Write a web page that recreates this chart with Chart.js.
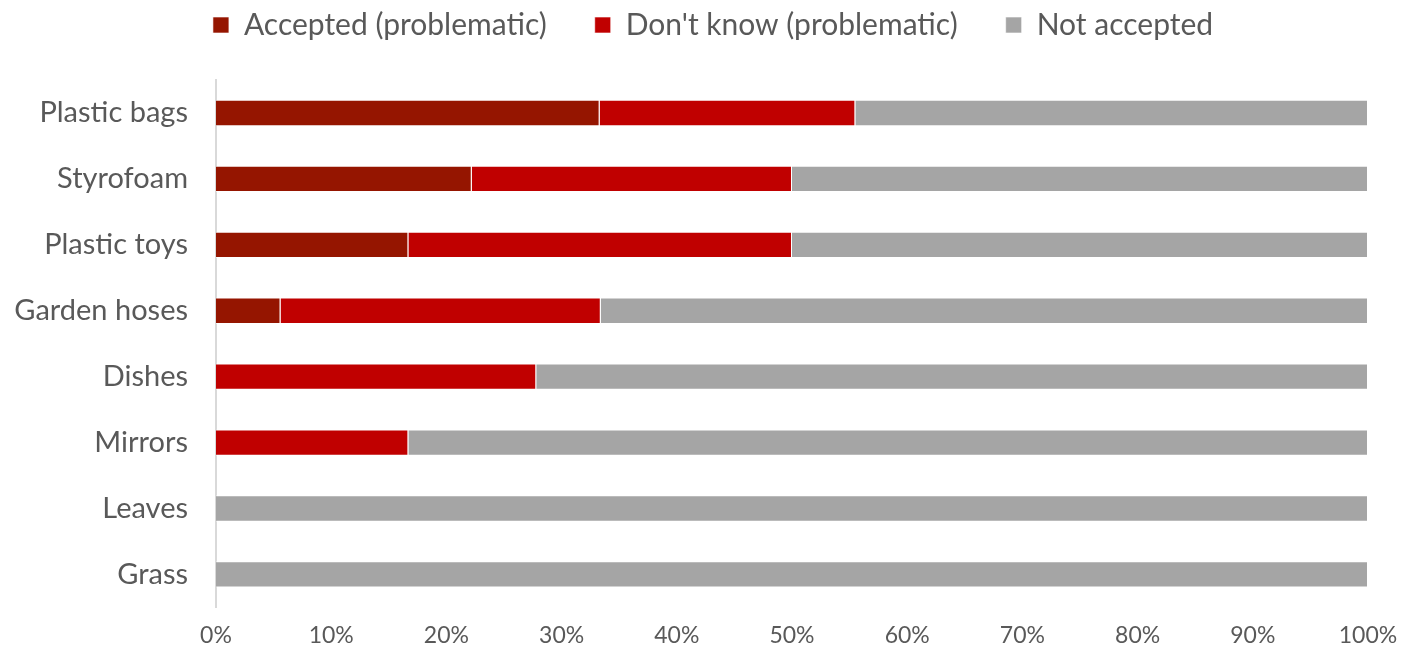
<!DOCTYPE html>
<html>
<head>
<meta charset="utf-8">
<script src="https://cdn.jsdelivr.net/npm/chart.js@4"></script>
<style>
  html, body { margin: 0; padding: 0; background: #fff; }
  #wrap { width: 1416px; height: 648px; }
</style>
</head>
<body>
<div id="wrap"><canvas id="grafico"></canvas></div>
<script>
const categorias = ['Plastic bags', 'Styrofoam', 'Plastic toys', 'Garden hoses', 'Dishes', 'Mirrors', 'Leaves', 'Grass'];
const aceito = [33.3, 22.2, 16.7, 5.6, 0, 0, 0, 0];
const naoSabe = [22.2, 27.8, 33.3, 27.8, 27.8, 16.7, 0, 0];
const naoAceito = [44.5, 50, 50, 66.6, 72.2, 83.3, 100, 100];

const corTexto = '#595959';
const ctx = document.getElementById('grafico');

// espaço extra entre a legenda e o gráfico, e legenda centrada como no original
const margemLegenda = {
  id: 'margemLegenda',
  beforeInit(chart) {
    const fitOriginal = chart.legend.fit;
    chart.legend.fit = function () {
      fitOriginal.bind(chart.legend)();
      this.height += 30;
    };
  },
  afterLayout(chart) {
    chart.legend.left += 58;
  }
};

new Chart(ctx, {
  type: 'bar',
  data: {
    labels: categorias,
    datasets: [
      {
        label: 'Accepted (problematic)',
        data: aceito,
        backgroundColor: '#951500',
        borderColor: 'rgba(255,255,255,0.6)',
        borderWidth: 1,
      },
      {
        label: "Don't know (problematic)",
        data: naoSabe,
        backgroundColor: '#C00000',
        borderColor: 'rgba(255,255,255,0.6)',
        borderWidth: 1,
      },
      {
        label: 'Not accepted',
        data: naoAceito,
        backgroundColor: '#A5A5A5',
        borderColor: 'rgba(255,255,255,0.6)',
        borderWidth: 1,
      },
    ]
  },
  plugins: [margemLegenda],
  options: {
    indexAxis: 'y',
    responsive: true,
    maintainAspectRatio: false,
    animation: false,
    categoryPercentage: 1,
    barPercentage: 0.4,
    layout: {
      padding: { left: 0, right: 48, top: -38, bottom: -15 }
    },
    plugins: {
      tooltip: { enabled: false },
      legend: {
        position: 'top',
        labels: {
          color: corTexto,
          font: { family: 'Lato', size: 30 },
          boxWidth: 16,
          boxHeight: 16,
          padding: 48,
        }
      }
    },
    scales: {
      x: {
        stacked: true,
        min: 0,
        max: 100,
        afterFit: (scale) => { scale.paddingRight = 0; },
        ticks: {
          stepSize: 10,
          color: corTexto,
          font: { family: 'Lato', size: 23 },
          padding: 14,
          callback: (v) => v + '%'
        },
        grid: { display: false, drawTicks: false },
        border: { display: false }
      },
      y: {
        stacked: true,
        afterFit: (scale) => {
          scale.width = 216;
          scale.paddingTop = 0;
          scale.paddingBottom = 0;
        },
        ticks: {
          color: corTexto,
          font: { family: 'Lato', size: 29 },
          padding: 28
        },
        grid: { display: false, drawTicks: false },
        border: { display: true, color: '#D9D9D9', width: 2 }
      }
    }
  }
});
</script>
</body>
</html>
